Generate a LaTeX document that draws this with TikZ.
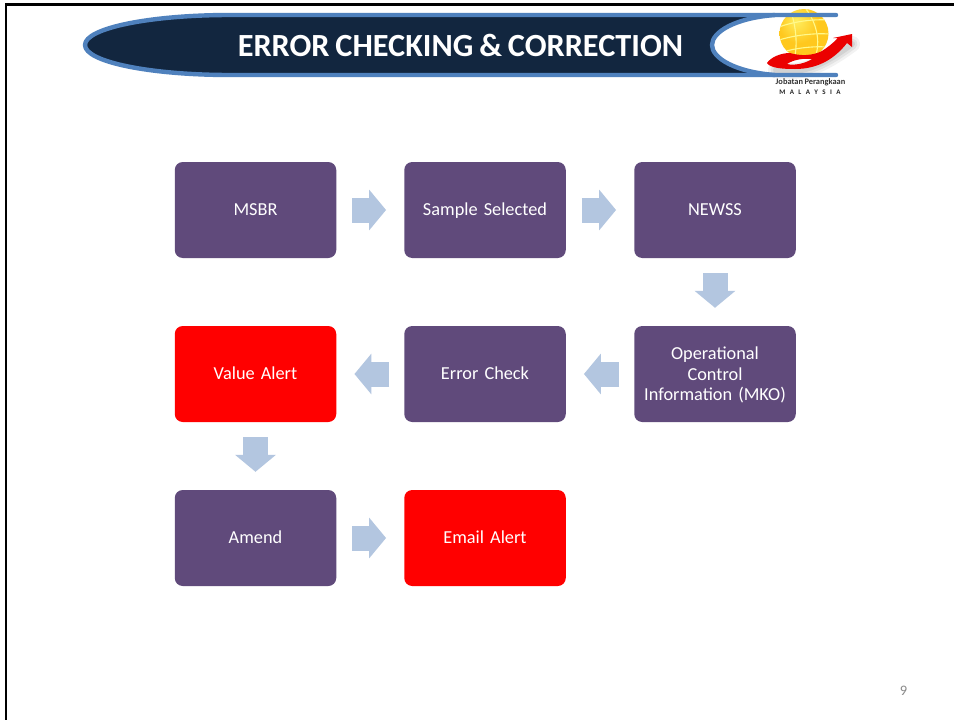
\documentclass[tikz,border=0pt]{standalone}
\usepackage{fontspec}
\setmainfont{Carlito}[WordSpace=0.8]
\usetikzlibrary{arrows.meta}
\definecolor{boxpurple}{HTML}{604A7B}
\definecolor{arrowblue}{HTML}{B3C6E0}
\definecolor{bannerdark}{HTML}{12263F}
\definecolor{bannerblue}{HTML}{4F81BD}
\definecolor{globeedge}{HTML}{C98A0C}
\definecolor{globemid}{HTML}{FFC81E}
\definecolor{globelight}{HTML}{FFEE60}
\pgfdeclareradialshading{globeshade}{\pgfpoint{-8bp}{14bp}}{color(0bp)=(globelight);color(20bp)=(globemid);color(40bp)=(globemid);color(58bp)=(globeedge);color(70bp)=(globeedge)}
\tikzset{
  flowbox/.style={draw=none,fill=boxpurple,rounded corners=8pt,minimum width=161.5pt,minimum height=96pt,inner sep=2pt,text width=150pt,align=center,text=white,font=\fontsize{18.3}{20.5}\selectfont},
  onelinebox/.style={flowbox,text height=14pt,text depth=4pt},
  alertbox/.style={onelinebox,fill=red},
  blockflow/.style={draw=arrowblue,line width=25pt,-{Triangle[length=17pt,width=40pt,fill=arrowblue]}},
  gridline/.style={draw=white!55!yellow,line width=1.1pt},
}
\begin{document}
\begin{tikzpicture}[x=1pt,y=1pt]
\useasboundingbox (0,0) rectangle (954,-720);
\fill[white] (0,0) rectangle (954,-720);
% slide edge
\fill[black] (5,-3.2) rectangle (954,-6);
\fill[black] (5,-3.2) rectangle (7,-720);
% banner
\fill[bannerdark] (85,-45) .. controls (85,-28) and (150,-15) .. (230,-15) -- (775,-15)
  .. controls (735,-18) and (712,-32) .. (712,-45) .. controls (712,-58) and (735,-72) .. (775,-75)
  -- (230,-75) .. controls (150,-75) and (85,-62) .. (85,-45) -- cycle;
% logo soft shadow
\foreach \w/\o in {16/0.05,11/0.06,6/0.07}{
  \draw[black,opacity=\o,line width=\w pt,line cap=round] (776,-70) .. controls (805,-76) and (830,-60) .. (852,-44);
}
% globe
\shade[shading=globeshade] (804,-33.5) circle (24.5);
\begin{scope}
\clip (804,-33.5) circle (24.5);
\draw[gridline] (790,-9) .. controls (796,-25) and (798,-45) .. (794,-60);
\draw[gridline] (806,-9) .. controls (818,-25) and (821,-45) .. (814,-60);
\draw[gridline] (779,-27) .. controls (795,-21) and (815,-19) .. (829,-20);
\draw[gridline] (779,-40) .. controls (795,-35) and (815,-33) .. (829,-34);
\draw[gridline] (783,-52) .. controls (795,-48) and (815,-46) .. (826,-47);
\end{scope}
% banner outline
\draw[bannerblue,line width=4.4pt,line cap=round,line join=round]
  (836,-15) -- (230,-15) .. controls (150,-15) and (85,-28) .. (85,-45)
  .. controls (85,-62) and (150,-75) .. (230,-75) -- (836,-75);
\draw[bannerblue,line width=4.4pt] (775,-15) .. controls (735,-18) and (712,-32) .. (712,-45)
  .. controls (712,-58) and (735,-72) .. (775,-75);
% swoosh
\fill[red!92!black,even odd rule] (767,-63) .. controls (771,-57) and (781,-53) .. (790,-53)
  .. controls (800,-56) and (812,-56) .. (822,-51) .. controls (828,-47) and (832,-44) .. (838,-38)
  -- (833,-38) -- (852,-34) -- (852,-47) -- (847,-43)
  .. controls (836,-57) and (820,-69) .. (795,-69) .. controls (782,-69) and (770,-68) .. (767,-63) -- cycle
  (787,-64) .. controls (795,-66) and (806,-63) .. (812,-59) .. controls (802,-58) and (793,-60) .. (787,-64) -- cycle;
\node[inner sep=0pt,font=\bfseries\fontsize{8.4}{9}\selectfont,text=black!80] (logotext) at (810.5,-82.5) {Jobatan Perangkaan};
\node[inner sep=0pt,font=\bfseries\fontsize{7}{8}\selectfont,text=black!85] (logotext2) at (810,-92) {M\hspace{4.4pt}A\hspace{4.4pt}L\hspace{4.4pt}A\hspace{4.4pt}Y\hspace{4.4pt}S\hspace{4.4pt}I\hspace{4.4pt}A};
% title
\node[inner sep=0pt,text=white,font=\bfseries\fontsize{32.3}{36}\selectfont] (title) at (460.5,-45.2) {ERROR CHECKING \& CORRECTION};
% boxes
\node[onelinebox] (msbr) at (255.5,-210) {MSBR};
\node[onelinebox] (sample) at (485,-210) {Sample Selected};
\node[onelinebox] (newss) at (715,-210) {NEWSS};
\node[flowbox] (mko) at (715,-374) {\rule{0pt}{15pt}Operational\\Control\\Information (MKO)};
\node[onelinebox] (check) at (485,-374) {Error Check};
\node[alertbox] (value) at (255.5,-374) {Value Alert};
\node[onelinebox] (amend) at (255.5,-538) {Amend};
\node[alertbox] (email) at (485,-538) {Email Alert};
% block arrows
\draw[blockflow,shorten <=16pt,shorten >=18pt] (msbr) -- (sample);
\draw[blockflow,shorten <=16pt,shorten >=18pt] (sample) -- (newss);
\draw[blockflow,shorten <=15pt,shorten >=18pt] (newss) -- (mko);
\draw[blockflow,shorten <=15pt,shorten >=18pt] (mko) -- (check);
\draw[blockflow,shorten <=15pt,shorten >=18pt] (check) -- (value);
\draw[blockflow,shorten <=15pt,shorten >=18pt] (value) -- (amend);
\draw[blockflow,shorten <=16pt,shorten >=18pt] (amend) -- (email);
% page number
\node[inner sep=0pt,text=black!46,font=\fontsize{14.5}{16}\selectfont] (page) at (903.5,-691) {9};
\end{tikzpicture}
\end{document}
